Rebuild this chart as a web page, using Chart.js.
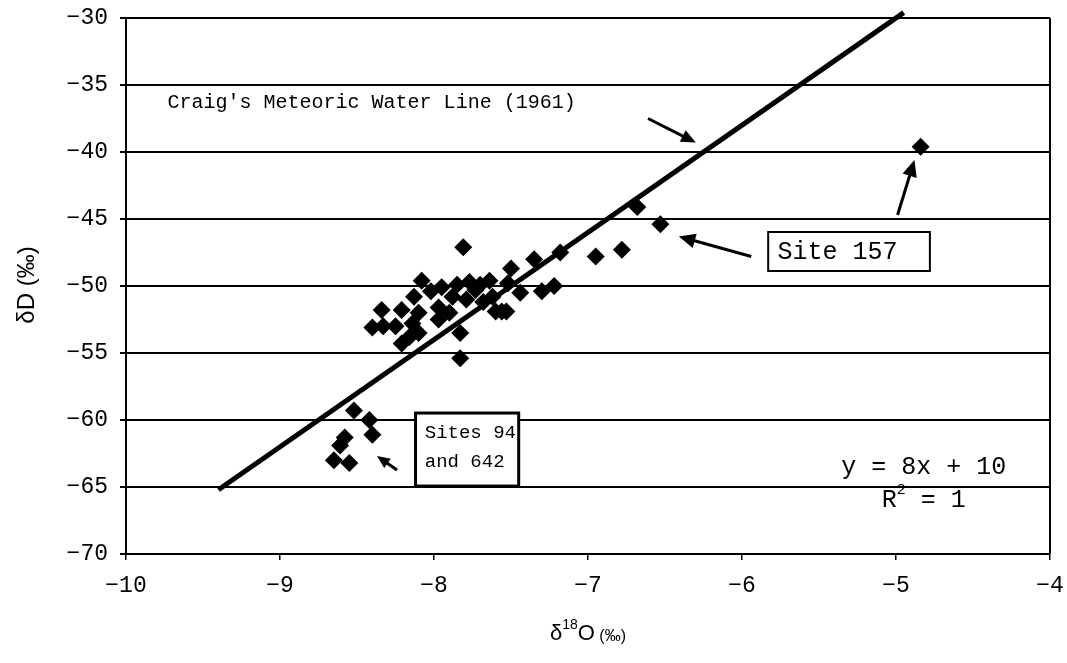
<!DOCTYPE html>
<html>
<head>
<meta charset="utf-8">
<script src="https://cdn.jsdelivr.net/npm/chart.js@4/dist/chart.umd.min.js"></script>
<style>
  html, body { margin: 0; padding: 0; background: #fff; }
  #wrap { width: 1067px; height: 663px; }
</style>
</head>
<body>
<div id="wrap"><canvas id="c" width="1067" height="663"></canvas></div>
<script>
// Stable isotope samples: δ18O (‰) against δD (‰)
const d18O = [
  -4.84, -6.53, -6.68, -6.78, -6.95, -7.18, -7.35, -7.50, -7.81,
  -7.22, -7.30, -7.44, -7.52,
  -8.08, -7.95, -7.77, -7.64, -8.13, -7.88, -7.79, -7.97, -8.34, -8.21,
  -8.40, -8.33, -8.25, -8.14, -8.10, -8.16, -8.21, -7.97, -7.90, -7.83,
  -7.83, -7.56, -7.73, -8.10, -7.53, -7.68, -7.62, -7.70, -8.02, -7.85, -7.60,
  -8.52, -8.42, -8.40, -8.58, -8.61, -8.65, -8.55
];
const dD = [
  -39.6, -45.4, -44.1, -47.3, -47.8, -47.5, -48.0, -48.7, -47.1,
  -50.0, -50.4, -50.5, -49.8,
  -49.6, -50.1, -49.7, -49.6, -50.8, -50.8, -51.0, -51.6, -51.8, -51.8,
  -53.1, -53.0, -53.0, -52.8, -53.5, -53.8, -54.3, -52.5, -52.0, -53.5,
  -55.4, -51.9, -50.3, -52.0, -51.9, -51.2, -50.8, -49.9, -50.4, -49.9, -51.9,
  -59.3, -60.0, -61.1, -61.3, -61.9, -63.0, -63.2
];

// Craig's Meteoric Water Line: δD = 8·δ18O + 10
const mwlSlope = 8;
const mwlIntercept = 10;
const mwlX = [-9.4, -4.95];

// Axis ranges and tick steps
const xRange = [-10, -4];
const yRange = [-70, -30];
const xStep = 1;
const yStep = 5;

// Annotation text
const craigLabel = "Craig's Meteoric Water Line (1961)";
const site157Label = "Site 157";
const sites94Label = ["Sites 94", "and 642"];
const eqLabel = "y = 8x + 10";
const r2Label = ["R", "2", " = 1"];

const samplePoints = d18O.map((x, i) => ({ x: x, y: dD[i] }));
const mwlPoints = mwlX.map(x => ({ x: x, y: mwlSlope * x + mwlIntercept }));

const MONO = "'Liberation Mono', 'DejaVu Sans Mono', monospace";
const SANS = "'Liberation Sans', Arial, sans-serif";

function minusFmt(v) {
  return v < 0 ? '\u2212' + Math.abs(v) : String(v);
}

function arrow(ctx, x1, y1, x2, y2, head) {
  const a = Math.atan2(y2 - y1, x2 - x1);
  ctx.beginPath();
  ctx.moveTo(x1, y1);
  ctx.lineTo(x2 - Math.cos(a) * head * 0.8, y2 - Math.sin(a) * head * 0.8);
  ctx.lineWidth = 3;
  ctx.stroke();
  ctx.beginPath();
  ctx.moveTo(x2, y2);
  ctx.lineTo(x2 - head * Math.cos(a - 0.42), y2 - head * Math.sin(a - 0.42));
  ctx.lineTo(x2 - head * Math.cos(a + 0.42), y2 - head * Math.sin(a + 0.42));
  ctx.closePath();
  ctx.fill();
}

const annotations = {
  id: 'annotations',
  afterDraw(chart) {
    const ctx = chart.ctx;
    const xs = chart.scales.x, ys = chart.scales.y;
    const X = v => xs.getPixelForValue(v);
    const Y = v => ys.getPixelForValue(v);
    const area = chart.chartArea;
    ctx.save();
    ctx.strokeStyle = '#000';
    ctx.fillStyle = '#000';

    // right-hand frame edge
    ctx.lineWidth = 2;
    ctx.beginPath();
    ctx.moveTo(area.right, area.top);
    ctx.lineTo(area.right, area.bottom);
    ctx.stroke();

    // MWL label and arrow
    ctx.font = '20px ' + MONO;
    ctx.textBaseline = 'middle';
    ctx.textAlign = 'left';
    ctx.fillText(craigLabel, X(-9.73), Y(-36.3));
    arrow(ctx, X(-6.61), Y(-37.5), X(-6.30), Y(-39.3), 16);

    // Site 157 box
    ctx.lineWidth = 2;
    ctx.fillStyle = '#fff';
    const bx1 = X(-5.83), bx2 = X(-4.78), by1 = Y(-45.97), by2 = Y(-48.88);
    ctx.fillRect(bx1, by1, bx2 - bx1, by2 - by1);
    ctx.strokeRect(bx1, by1, bx2 - bx1, by2 - by1);
    ctx.fillStyle = '#000';
    ctx.font = '25px ' + MONO;
    ctx.fillText(site157Label, X(-5.77), Y(-47.46));
    arrow(ctx, X(-5.94), Y(-47.8), X(-6.41), Y(-46.3), 18);
    arrow(ctx, X(-4.99), Y(-44.7), X(-4.88), Y(-40.6), 18);

    // Sites 94 and 642 box
    const sx1 = X(-8.12), sx2 = X(-7.45), sy1 = Y(-59.48), sy2 = Y(-64.93);
    ctx.fillStyle = '#fff';
    ctx.fillRect(sx1, sy1, sx2 - sx1, sy2 - sy1);
    ctx.strokeRect(sx1, sy1, sx2 - sx1, sy2 - sy1);
    ctx.fillStyle = '#000';
    ctx.font = '19px ' + MONO;
    ctx.fillText(sites94Label[0], X(-8.06), Y(-60.97));
    ctx.fillText(sites94Label[1], X(-8.06), Y(-63.13));
    arrow(ctx, X(-8.24), Y(-63.73), X(-8.37), Y(-62.69), 14);

    // Trendline equation
    ctx.font = '25px ' + MONO;
    ctx.textAlign = 'center';
    ctx.fillText(eqLabel, X(-4.82), Y(-63.5));
    const rW = ctx.measureText(r2Label[0]).width;
    ctx.font = '15px ' + MONO;
    const sW = ctx.measureText(r2Label[1]).width;
    ctx.font = '25px ' + MONO;
    const tW = ctx.measureText(r2Label[2]).width;
    let rx = X(-4.82) - (rW + sW + tW) / 2;
    const ry = Y(-65.97);
    ctx.textAlign = 'left';
    ctx.fillText(r2Label[0], rx, ry);
    ctx.font = '15px ' + MONO;
    ctx.fillText(r2Label[1], rx + rW, ry - 10);
    ctx.font = '25px ' + MONO;
    ctx.fillText(r2Label[2], rx + rW + sW, ry);

    // Axis titles
    ctx.save();
    ctx.translate(27, 285);
    ctx.rotate(-Math.PI / 2);
    ctx.textAlign = 'center';
    ctx.font = '24px ' + SANS;
    ctx.fillText('\u03B4D (\u2030)', 0, 0);
    ctx.restore();

    const cx = (area.left + area.right) / 2;
    const ty = 634;
    ctx.font = '22px ' + SANS;
    const p1 = '\u03B4', p2 = '18', p3 = 'O', p4 = ' (\u2030)';
    const w1 = ctx.measureText(p1).width;
    const w3 = ctx.measureText(p3).width;
    ctx.font = '14px ' + SANS;
    const w2 = ctx.measureText(p2).width;
    ctx.font = '16px ' + SANS;
    const w4 = ctx.measureText(p4).width;
    let tx = cx - (w1 + w2 + w3 + w4) / 2;
    ctx.textAlign = 'left';
    ctx.font = '22px ' + SANS;
    ctx.fillText(p1, tx, ty); tx += w1;
    ctx.font = '14px ' + SANS;
    ctx.fillText(p2, tx, ty - 9); tx += w2;
    ctx.font = '22px ' + SANS;
    ctx.fillText(p3, tx, ty); tx += w3;
    ctx.font = '16px ' + SANS;
    ctx.fillText(p4, tx, ty + 3);

    ctx.restore();
  }
};

new Chart(document.getElementById('c'), {
  type: 'scatter',
  data: {
    datasets: [
      {
        type: 'line',
        data: mwlPoints,
        borderColor: '#000',
        borderWidth: 5,
        pointRadius: 0,
        fill: false,
        clip: false,
        order: 2
      },
      {
        data: samplePoints,
        pointStyle: 'rectRot',
        pointRadius: 9,
        backgroundColor: '#000',
        borderColor: '#000',
        borderWidth: 0,
        order: 1
      }
    ]
  },
  options: {
    responsive: false,
    animation: false,
    devicePixelRatio: 1,
    layout: { padding: { top: 18, right: 17, left: 0, bottom: 0 } },
    plugins: { legend: { display: false }, tooltip: { enabled: false } },
    scales: {
      x: {
        type: 'linear',
        min: xRange[0], max: xRange[1],
        ticks: {
          stepSize: xStep, color: '#000', padding: 12,
          font: { family: MONO, size: 23 },
          callback: minusFmt
        },
        grid: { drawOnChartArea: false, drawTicks: true, tickLength: 6, color: '#000', lineWidth: 1.5 },
        border: { display: true, color: '#000', width: 2 },
        afterFit(s) { s.height = 109; s.paddingLeft = 0; s.paddingRight = 0; }
      },
      y: {
        type: 'linear',
        min: yRange[0], max: yRange[1],
        ticks: {
          stepSize: yStep, color: '#000', padding: 12,
          font: { family: MONO, size: 23 },
          callback: minusFmt
        },
        grid: { drawOnChartArea: true, drawTicks: true, tickLength: 6, color: '#000', lineWidth: 2 },
        border: { display: true, color: '#000', width: 2 },
        afterFit(s) { s.width = 126; s.paddingTop = 0; s.paddingBottom = 0; }
      }
    }
  },
  plugins: [annotations]
});
</script>
</body>
</html>
